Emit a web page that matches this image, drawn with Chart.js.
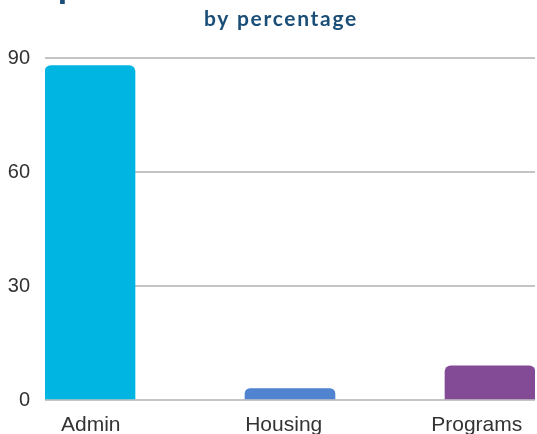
<!DOCTYPE html>
<html>
<head>
<meta charset="utf-8">
<script src="https://cdn.jsdelivr.net/npm/chart.js@4/dist/chart.umd.min.js"></script>
<style>
  html, body { margin: 0; padding: 0; background: #fff; }
  #wrap { width: 537px; height: 434px; }
</style>
</head>
<body>
<div id="wrap"><canvas id="expChart" width="537" height="434"></canvas></div>
<script>
const categories = ['Admin', 'Housing', 'Programs'];
const percents = [88, 3, 9];
const barColors = ['#00b5e2', '#5083d0', '#834b96'];
const yTicks = [0, 30, 60, 90];

const titleText = 'Expenses';
const subtitleText = 'by percentage';

// title is cut off at the top in the original, subtitle has spaced letters
const headerPlugin = {
    id: 'header',
    afterDraw(chart) {
        const ctx = chart.ctx;
        ctx.save();
        ctx.fillStyle = '#1b4e77';
        ctx.textBaseline = 'alphabetic';
        ctx.font = 'bold 38px Lato';
        ctx.textAlign = 'left';
        ctx.fillText(titleText, 16, -2);
        ctx.font = 'bold 21px Lato';
        ctx.letterSpacing = '1.7px';
        ctx.textAlign = 'center';
        ctx.fillText(subtitleText, 281, 26);
        ctx.restore();
    }
};

const ctx = document.getElementById('expChart').getContext('2d');
new Chart(ctx, {
    type: 'bar',
    data: {
        datasets: [{
            data: percents.map((v, i) => ({ x: i, y: v })),
            backgroundColor: barColors,
            barThickness: 90,
            borderRadius: { topLeft: 6, topRight: 6 },
            borderSkipped: 'start',
            xAxisID: 'x',
            yAxisID: 'y'
        }]
    },
    options: {
        responsive: false,
        animation: false,
        layout: { padding: { top: 58, right: 2, left: 0, bottom: 0 } },
        plugins: {
            legend: { display: false },
            tooltip: { enabled: false }
        },
        scales: {
            x: {
                type: 'linear',
                display: false,
                offset: false,
                min: -0.225,
                max: 2.225
            },
            xl: {
                type: 'linear',
                position: 'bottom',
                offset: false,
                min: -0.237,
                max: 2.302,
                grid: { display: false, offset: false },
                border: { display: false },
                afterFit: s => { s.height = 34; },
                afterBuildTicks: s => { s.ticks = categories.map((c, i) => ({ value: i })); },
                ticks: {
                    autoSkip: false,
                    maxRotation: 0,
                    padding: 5,
                    color: '#333',
                    font: { family: 'Liberation Sans', size: 21 },
                    callback: v => categories[v]
                }
            },
            y: {
                min: 0,
                max: 90,
                afterFit: s => { s.width = 45; },
                afterBuildTicks: s => { s.ticks = yTicks.map(v => ({ value: v })); },
                grid: { color: '#c4c4c4', lineWidth: 2, drawTicks: false },
                border: { display: false },
                ticks: {
                    padding: 15,
                    color: '#333',
                    font: { family: 'Liberation Sans', size: 20 }
                }
            }
        }
    },
    plugins: [headerPlugin]
});
</script>
</body>
</html>
